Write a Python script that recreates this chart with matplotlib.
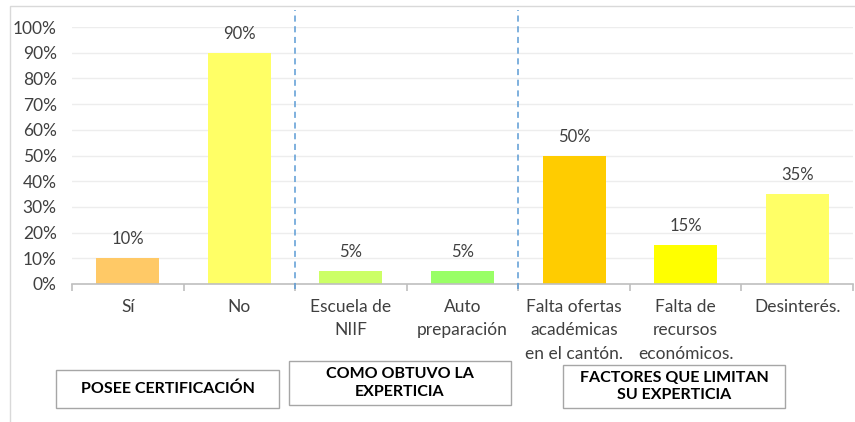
import matplotlib.pyplot as plt
from matplotlib.patches import Rectangle
from matplotlib.ticker import PercentFormatter

plt.rcParams["font.family"] = ["Lato", "DejaVu Sans"]

categories = ["Sí", "No", "Escuela de\nNIIF", "Auto\npreparación",
              "Falta ofertas\nacadémicas\nen el cantón.", "Falta de\nrecursos\neconómicos.",
              "Desinterés."]
values = [0.10, 0.90, 0.05, 0.05, 0.50, 0.15, 0.35]
colors = ["#FFC966", "#FFFF66", "#CCFF66", "#99FF66", "#FFCC00", "#FFFF00", "#FFFF66"]
group_titles = ["POSEE CERTIFICACIÓN", "COMO OBTUVO LA\nEXPERTICIA", "FACTORES QUE LIMITAN\nSU EXPERTICIA"]
group_splits = [1.5, 3.5]

W, H = 855, 422
fig = plt.figure(figsize=(W / 100, H / 100), dpi=100)
ax = fig.add_axes([72 / W, 1 - 284 / H, (853 - 72) / W, (284 - 27) / H])

x = list(range(len(categories)))
ax.bar(x, values, width=0.565, color=colors, zorder=2)
for xi, v in zip(x, values):
    ax.annotate(f"{v:.0%}", (xi, v), xytext=(0, 11), textcoords="offset pixels",
                ha="center", va="bottom", fontsize=12, color="#404040")

ax.set_xlim(-0.5, len(categories) - 0.5)
ax.set_ylim(0, 1)
ax.set_yticks([i / 10 for i in range(11)])
ax.yaxis.set_major_formatter(PercentFormatter(1.0, decimals=0))
ax.grid(axis="y", color="#EDEDED", linewidth=1, zorder=0)
for s in ["top", "right", "left"]:
    ax.spines[s].set_visible(False)
ax.spines["bottom"].set_color("#BFBFBF")
ax.spines["bottom"].set_linewidth(1.2)

ax.set_xticks(x)
ax.set_xticklabels(categories, fontsize=12.5, color="#404040", linespacing=1.55, va="top")
ax.set_xticks([i - 0.5 for i in range(len(categories) + 1)], minor=True)
ax.tick_params(axis="x", which="major", length=0, pad=11)
ax.tick_params(axis="x", which="minor", length=5, color="#BFBFBF", width=1.2)
ax.tick_params(axis="y", length=0, labelsize=12.5, labelcolor="#404040", pad=11)

for xs in group_splits:
    ax.plot([xs, xs], [-0.02, 1.065], color="#5B9BD5", linestyle=(0, (4, 3)),
            linewidth=1.1, clip_on=False, zorder=3)

# group title boxes (figure pixel coords)
boxes = [(56, 370, 279, 408), (289, 361, 511, 405), (563, 365, 785, 408)]
for (x0, y0, x1, y1), title in zip(boxes, group_titles):
    fig.patches.append(Rectangle((x0 / W, 1 - y1 / H), (x1 - x0) / W, (y1 - y0) / H,
                                 transform=fig.transFigure, facecolor="white",
                                 edgecolor="#A6A6A6", linewidth=1))
    fig.text((x0 + x1) / 2 / W, 1 - (y0 + y1) / 2 / H, title, ha="center", va="center",
             fontsize=11.5, fontweight="bold", color="black", linespacing=1.35)

fig.patches.append(Rectangle((10 / W, -0.05), 1.2, 1 - 6 / H + 0.05,
                             transform=fig.transFigure, fill=False,
                             edgecolor="#D9D9D9", linewidth=1))

fig.savefig("out.png", dpi=100)
